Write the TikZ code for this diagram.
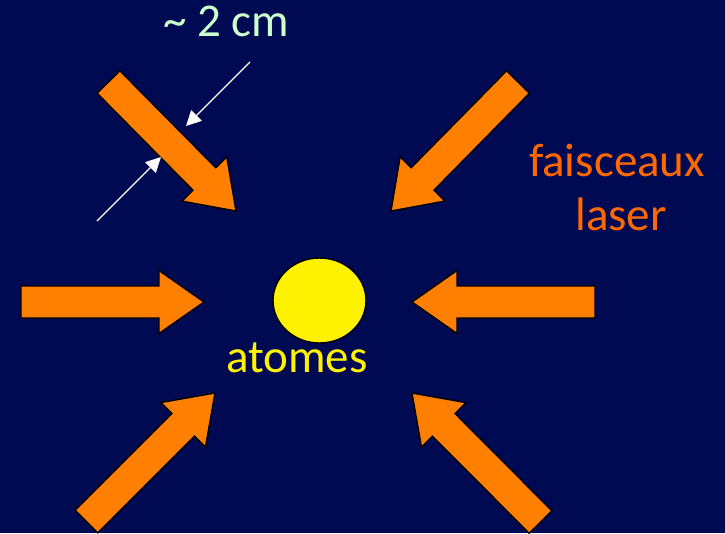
\documentclass[tikz,border=0pt]{standalone}
\usepackage{fontspec}
\setmainfont{Carlito}
\usetikzlibrary{calc,arrows.meta,shapes.geometric}
\definecolor{bgblue}{RGB}{0,10,82}
\definecolor{beamorange}{RGB}{255,128,0}
\definecolor{txtorange}{RGB}{255,104,0}
\definecolor{paleg}{RGB}{204,255,204}
\tikzset{
  beam/.style={fill=beamorange, draw=black, line width=1.4pt, line join=miter},
  lbl/.style={anchor=base, inner sep=0pt, font=\fontsize{47}{54}\selectfont},
  dimarrow/.style={draw=white, line width=1.3pt, -{Triangle[length=15pt,width=15pt]}}
}
% block arrow from tail coordinate #1 to tip coordinate #2
\newcommand\blockbeam[2]{%
  \path ($(#2)!45pt!(#1)$) coordinate (hb);
  \draw[beam] ($(#1)!16pt!90:(#2)$) -- ($(hb)!16pt!90:(#2)$) -- ($(hb)!31.5pt!90:(#2)$)
    -- (#2) -- ($(hb)!31.5pt!-90:(#2)$) -- ($(hb)!16pt!-90:(#2)$) -- ($(#1)!16pt!-90:(#2)$) -- cycle;
}
\begin{document}
\begin{tikzpicture}[x=1pt,y=-1pt]
\fill[bgblue] (0,0) rectangle (725,533);
\useasboundingbox (0,0) rectangle (725,533);

% tails and tips of the laser beams
\coordinate (tlA) at (108.5,82);  \coordinate (tlB) at (236,211);
\coordinate (trA) at (518,82);    \coordinate (trB) at (391,211);
\coordinate (lA) at (21,302);     \coordinate (lB) at (204,302);
\coordinate (rA) at (595,302);    \coordinate (rB) at (412,302);
\coordinate (blA) at (86.5,521.5); \coordinate (blB) at (215,393);
\coordinate (brA) at (540.5,522); \coordinate (brB) at (412,393);

\blockbeam{tlA}{tlB}
\blockbeam{trA}{trB}
\blockbeam{lA}{lB}
\blockbeam{rA}{rB}
\blockbeam{blA}{blB}
\blockbeam{brA}{brB}

% atom cloud
\node[ellipse, draw=black, fill=yellow, line width=1.4pt, minimum width=93pt, minimum height=85pt, inner sep=0pt] (cloud) at (319.5,300.5) {};

% width markers
\coordinate (w1a) at (250,62);  \coordinate (w1b) at (186,126);
\coordinate (w2a) at (97,221);  \coordinate (w2b) at (161,157);
\draw[dimarrow] (w1a) -- (w1b);
\draw[dimarrow] (w2a) -- (w2b);

% labels
\node[lbl, text=paleg] (size) at (226,36) {\textasciitilde{} 2 cm};
\node[lbl, text=txtorange] (fx) at (617,176) {faisceaux};
\node[lbl, text=txtorange] (lz) at (621,230) {laser};
\node[lbl, text=yellow] (at) at (297,372) {atomes};
\end{tikzpicture}
\end{document}
